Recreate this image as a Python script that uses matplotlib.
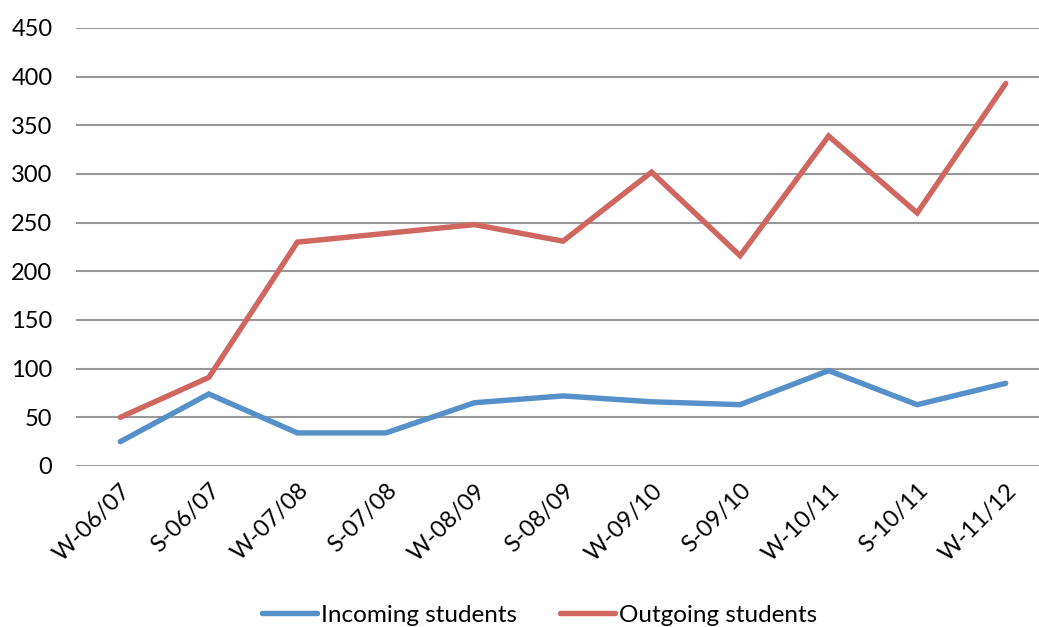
import matplotlib
matplotlib.use("Agg")
import matplotlib.pyplot as plt

categories = ["W-06/07", "S-06/07", "W-07/08", "S-07/08", "W-08/09", "S-08/09",
              "W-09/10", "S-09/10", "W-10/11", "S-10/11", "W-11/12"]
incoming = [25, 74, 34, 34, 65, 72, 66, 63, 98, 63, 85]
outgoing = [50, 91, 230, 239, 248, 231, 302, 216, 339, 260, 393]
yticks = [0, 50, 100, 150, 200, 250, 300, 350, 400, 450]

plt.rcParams['font.family'] = ['Lato', 'DejaVu Sans']

W, H = 1039, 627
fig = plt.figure(figsize=(W / 100, H / 100), dpi=100)
left, right = 76, 1050
top, bottom = 28, 466
ax = fig.add_axes([left / W, 1 - bottom / H, (right - left) / W, (bottom - top) / H])
x = list(range(len(categories)))
ax.plot(x, incoming, color="#5690C8", lw=3.9, solid_capstyle='round', solid_joinstyle='miter', label="Incoming students")
ax.plot(x, outgoing, color="#CF6660", lw=3.9, solid_capstyle='round', solid_joinstyle='miter', label="Outgoing students")
ax.set_xlim(-0.5, len(categories) - 0.5)
ax.set_ylim(0, 450)
ax.set_yticks(yticks)
ax.set_xticks(x)
ax.set_xticklabels(categories, rotation=45, ha='right', rotation_mode='anchor')
ax.tick_params(axis='both', length=0, labelsize=17, colors='black')
ax.tick_params(axis='y', pad=17)
ax.tick_params(axis='x', pad=10)
for s in ax.spines.values():
    s.set_visible(False)
ax.yaxis.grid(True, color="#989898", lw=1.5)
ax.set_axisbelow(True)
ax.legend(loc='center', bbox_to_anchor=(539.5 / W, 1 - 615 / H), bbox_transform=fig.transFigure,
          ncol=2, frameon=False, fontsize=17.5, handlelength=2.26, handletextpad=0.17,
          columnspacing=1.77, borderpad=0, borderaxespad=0)
fig.savefig("out.png", dpi=100)
